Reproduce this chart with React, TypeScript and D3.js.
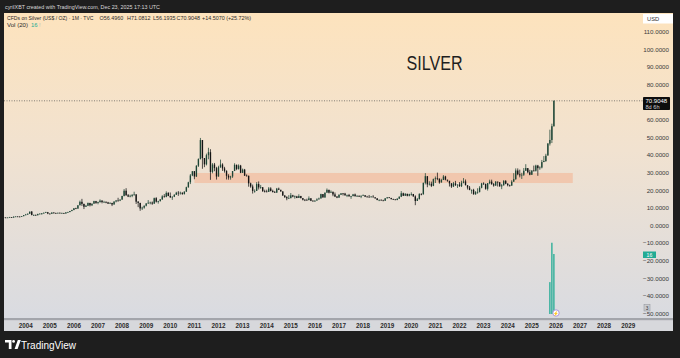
import React from "react";
import * as d3 from "d3";

const W = 680;
const H = 358;

const startYear = 2003; // first monthly candle: Jan 2003
const firstOpen = 4.8;

// monthly closes, Jan 2003 .. Dec 2025
const closes = [
  4.83, 4.58, 4.44, 4.59, 4.79, 4.55, 5.08, 5.17, 5.14, 5.02, 5.37, 5.96, // 2003
  6.28, 6.73, 7.94, 6.05, 6.06, 5.87, 6.59, 6.81, 6.95, 7.28, 7.6, 6.82, // 2004
  6.7, 7.41, 7.13, 7.0, 7.25, 7.03, 7.19, 6.85, 7.55, 7.7, 8.3, 8.83, // 2005
  9.87, 9.65, 11.56, 13.5, 12.35, 10.7, 11.28, 12.85, 11.55, 12.44, 13.9, 12.9, // 2006
  13.4, 14.2, 13.37, 13.45, 13.2, 12.45, 12.85, 12.0, 13.7, 14.25, 14.2, 14.76, // 2007
  16.85, 19.8, 17.25, 16.5, 16.9, 17.5, 17.7, 13.6, 12.9, 9.75, 10.2, 11.3, // 2008
  12.6, 13.0, 13.1, 12.5, 15.6, 13.6, 13.9, 14.9, 16.6, 16.35, 18.55, 16.85, // 2009
  16.1, 16.4, 17.5, 18.7, 18.4, 18.7, 18.0, 19.35, 21.8, 24.6, 28.5, 30.9, // 2010
  27.9, 34.0, 37.8, 48.6, 38.4, 34.8, 40.0, 41.7, 30.5, 34.7, 32.7, 27.9, // 2011
  33.2, 34.7, 32.5, 31.1, 28.3, 27.35, 27.9, 31.0, 34.5, 32.2, 34.1, 30.0, // 2012
  31.8, 28.4, 28.3, 24.0, 22.2, 19.7, 19.7, 23.6, 21.7, 21.8, 19.5, 19.4, // 2013
  19.15, 21.1, 19.7, 19.0, 18.7, 21.0, 20.4, 19.4, 17.05, 16.2, 15.5, 15.6, // 2014
  17.2, 16.5, 16.6, 15.7, 16.8, 15.6, 14.7, 14.6, 14.5, 15.5, 14.1, 13.8, // 2015
  14.1, 14.9, 15.4, 17.9, 16.0, 18.7, 20.3, 18.7, 19.2, 17.7, 16.5, 15.9, // 2016
  17.5, 18.3, 18.2, 17.2, 17.4, 16.6, 16.8, 17.7, 16.65, 16.7, 16.45, 16.9, // 2017
  17.3, 16.45, 16.35, 16.3, 16.45, 16.1, 15.5, 14.55, 14.65, 14.3, 14.15, 15.5, // 2018
  16.05, 15.65, 15.1, 14.95, 14.55, 15.3, 16.4, 18.35, 16.95, 18.1, 16.95, 17.85, // 2019
  17.95, 16.6, 14.0, 15.0, 17.9, 17.75, 24.3, 28.1, 23.4, 23.8, 22.6, 26.4, // 2020
  26.9, 26.7, 24.5, 25.9, 27.9, 26.1, 25.5, 24.0, 22.2, 24.0, 23.1, 23.3, // 2021
  22.4, 24.3, 25.1, 23.0, 21.6, 20.3, 20.3, 17.8, 19.0, 19.15, 21.5, 23.95, // 2022
  23.6, 20.9, 24.1, 25.0, 23.55, 22.75, 24.95, 24.7, 22.3, 22.9, 25.3, 23.8, // 2023
  22.95, 22.7, 24.95, 26.4, 31.3, 29.15, 28.55, 28.9, 31.15, 32.7, 30.3, 28.9, // 2024
  31.3, 31.15, 34.1, 32.65, 33.0, 36.1, 36.7, 39.7, 46.6, 48.65, 56.496, 70.9048, // 2025
];

const highs = [
  4.98, 4.8, 4.7, 4.67, 4.95, 4.88, 5.2, 5.28, 5.33, 5.2, 5.42, 5.99,
  6.64, 6.89, 7.94, 8.29, 6.3, 6.3, 6.77, 6.92, 7.15, 7.48, 7.85, 7.75,
  6.93, 7.55, 7.58, 7.36, 7.41, 7.48, 7.35, 7.2, 7.55, 7.86, 8.3, 9.0,
  9.87, 10.15, 11.56, 14.2, 15.2, 12.4, 11.75, 13.1, 12.95, 12.6, 14.1, 14.05,
  13.6, 14.9, 14.4, 14.05, 13.8, 13.5, 13.3, 12.95, 13.75, 14.55, 15.8, 14.95,
  16.9, 20.75, 21.25, 17.95, 17.55, 17.8, 19.25, 17.9, 13.9, 12.9, 10.75, 11.4,
  12.7, 14.5, 13.6, 13.7, 15.9, 16.15, 14.1, 15.1, 17.25, 17.9, 19.45, 19.0,
  18.8, 16.6, 17.8, 19.2, 19.6, 19.3, 18.85, 19.35, 22.1, 24.9, 29.3, 30.9,
  31.0, 34.3, 38.2, 49.8, 48.6, 38.3, 40.9, 44.2, 43.4, 35.5, 35.6, 33.4,
  34.0, 37.5, 35.4, 33.4, 31.4, 29.2, 28.3, 31.0, 35.4, 34.7, 34.8, 34.5,
  32.4, 32.2, 29.1, 28.4, 24.4, 23.3, 20.6, 24.7, 25.1, 23.1, 21.9, 20.4,
  20.4, 21.9, 21.8, 20.4, 19.7, 21.4, 21.6, 20.1, 19.5, 17.4, 16.7, 17.3,
  18.5, 17.5, 17.1, 16.9, 17.8, 16.9, 15.7, 15.0, 15.3, 16.6, 15.6, 14.5,
  14.5, 15.5, 15.9, 18.1, 17.9, 18.8, 21.1, 20.4, 20.0, 19.3, 18.8, 16.8,
  17.8, 18.5, 18.5, 18.6, 17.6, 18.0, 16.9, 18.0, 18.2, 17.4, 17.3, 17.2,
  17.7, 17.1, 16.9, 17.4, 16.8, 17.3, 16.1, 15.5, 14.8, 14.9, 14.7, 15.6,
  16.2, 16.2, 15.8, 15.3, 14.9, 15.5, 16.6, 19.6, 18.7, 18.4, 18.0, 18.1,
  18.9, 18.0, 17.2, 15.7, 18.4, 18.4, 24.4, 29.8, 28.0, 25.2, 25.0, 26.7,
  27.9, 30.1, 26.7, 26.6, 28.7, 28.3, 26.0, 24.6, 24.1, 24.8, 25.4, 23.4,
  24.7, 25.5, 27.0, 26.2, 22.5, 22.5, 20.5, 20.9, 19.6, 21.2, 22.4, 24.3,
  24.6, 23.9, 24.2, 26.1, 26.1, 24.2, 25.3, 25.0, 24.2, 23.7, 25.9, 25.9,
  24.1, 23.3, 25.8, 29.8, 32.5, 32.5, 31.8, 30.0, 32.7, 34.9, 32.4, 31.7,
  31.4, 34.1, 34.6, 34.5, 33.7, 37.3, 39.5, 40.8, 46.9, 54.5, 57.9, 71.0812,
];

const lows = [
  4.66, 4.55, 4.37, 4.39, 4.55, 4.48, 4.52, 4.92, 4.97, 4.78, 4.98, 5.32,
  5.89, 6.1, 6.69, 5.82, 5.5, 5.73, 5.85, 6.35, 6.2, 6.81, 7.2, 6.5,
  6.39, 6.64, 6.86, 6.87, 6.92, 7.03, 6.86, 6.68, 6.85, 7.34, 7.6, 8.15,
  8.77, 9.35, 9.6, 11.5, 11.2, 9.4, 10.6, 11.1, 10.9, 11.1, 12.45, 12.35,
  12.1, 13.0, 12.65, 13.1, 12.7, 12.35, 12.4, 11.1, 11.9, 13.2, 13.7, 13.9,
  14.7, 16.6, 16.95, 16.2, 16.05, 16.15, 17.05, 12.3, 10.5, 8.4, 8.85, 9.6,
  10.9, 12.3, 12.1, 11.8, 12.35, 13.1, 12.5, 13.7, 14.6, 15.9, 16.1, 16.7,
  15.7, 14.6, 16.2, 17.5, 16.9, 17.6, 17.5, 17.6, 19.1, 21.5, 23.6, 28.1,
  26.35, 27.6, 33.3, 37.6, 32.3, 33.2, 34.2, 37.7, 26.0, 29.7, 30.9, 26.15,
  27.8, 32.8, 31.1, 30.1, 26.2, 26.1, 26.1, 27.1, 31.0, 31.5, 31.8, 29.8,
  29.9, 28.2, 28.0, 22.1, 21.5, 18.2, 18.7, 19.7, 20.5, 20.9, 19.25, 18.8,
  18.9, 19.2, 19.4, 18.9, 18.7, 18.7, 20.2, 19.3, 17.0, 15.7, 14.4, 15.3,
  15.5, 16.1, 15.3, 15.6, 15.8, 15.5, 14.3, 13.9, 14.3, 14.4, 13.9, 13.7,
  13.6, 14.6, 14.8, 15.4, 15.9, 15.8, 18.7, 18.3, 18.6, 16.7, 16.2, 15.6,
  15.8, 17.5, 17.1, 17.0, 16.2, 16.5, 15.2, 16.6, 16.6, 16.5, 16.3, 15.6,
  16.9, 16.2, 16.1, 16.0, 16.1, 16.0, 15.3, 14.4, 13.9, 14.2, 13.9, 14.0,
  15.4, 15.6, 14.8, 14.7, 14.3, 14.4, 15.1, 16.2, 16.8, 16.9, 16.6, 16.6,
  17.0, 16.4, 11.6, 14.2, 14.9, 17.2, 17.7, 23.4, 21.8, 22.8, 21.9, 22.4,
  24.2, 25.8, 23.8, 24.5, 25.9, 25.7, 24.9, 22.2, 21.4, 21.9, 22.5, 21.4,
  22.0, 21.9, 24.0, 22.8, 20.5, 20.1, 18.1, 17.6, 17.5, 18.1, 18.8, 21.2,
  23.1, 20.4, 19.9, 23.5, 23.2, 22.1, 22.6, 22.2, 22.1, 20.7, 22.7, 23.5,
  22.3, 22.1, 22.7, 24.9, 26.0, 28.6, 27.4, 26.5, 28.2, 31.1, 29.7, 28.6,
  28.8, 30.8, 30.7, 28.3, 31.7, 32.5, 36.1, 36.2, 40.1, 45.5, 46.9, 56.1935,
];

// volume (only the latest months carry volume)
const volumeMonths = [2025 + 9 / 12, 2025 + 10 / 12, 2025 + 11 / 12];
const volumes = [8.5, 19, 16];

const yearTicks = d3.range(2004, 2030);
// 70.0000 is hidden behind the last-price label in the reference
const priceTicks = [110, 100, 90, 80, 60, 50, 40, 30, 20, 10, 0, -10, -20, -30, -40, -50];

const zone = { from: 2011, to: 2026.7, low: 24.2, high: 29.9 };
const lastPrice = 70.9048;

const headerText = "CFDs on Silver (US$ / OZ) · 1M · TVC";
const ohlcLabels = ["O", "H", "L", "C"];
const ohlcValues = ["56.4960", "71.0812", "56.1935", "70.9048"];
const changeText = "+14.5070 (+25.72%)";

const FONT = "'Liberation Sans', Arial, sans-serif";

export default function App() {
  const panel = { x0: 4, x1: 673, y0: 13, y1: 331 };
  const plotRight = 643;
  const axisTop = 318;

  const x = d3.scaleLinear().domain([2004, 2029]).range([25.7, 628.2]);
  const y = d3.scaleLinear().domain([110, -50]).range([32, 313.6]);
  const yVol = d3.scaleLinear().domain([0, 16]).range([314, 254]);

  const candles = closes.map((c, i) => {
    const t = startYear + i / 12;
    const o = i === 0 ? firstOpen : closes[i - 1];
    return { t, o, h: highs[i], l: lows[i], c };
  });

  const upCol = "#1d4535";
  const downCol = "#141414";
  const bw = 1.35;

  const ohlcX = [99.5, 127, 153, 176.5];

  return (
    <svg
      width={W}
      height={H}
      style={{ position: "fixed", left: 0, top: 0, display: "block" }}
      fontFamily={FONT}
    >
      <defs>
        <linearGradient id="bg" x1="0" y1="0" x2="0" y2="1">
          <stop offset="0" stopColor="#fde3bd" />
          <stop offset="0.45" stopColor="#f1e2d0" />
          <stop offset="1" stopColor="#d9dbe1" />
        </linearGradient>
        <clipPath id="plotClip">
          <rect x={panel.x0} y={panel.y0} width={plotRight - panel.x0} height={axisTop - panel.y0} />
        </clipPath>
      </defs>

      <rect x={0} y={0} width={W} height={H} fill="#1e1e1e" />
      <rect x={panel.x0} y={panel.y0} width={panel.x1 - panel.x0} height={axisTop - panel.y0} fill="url(#bg)" />

      {/* top credits */}
      <text x={5} y={9} fontSize={6.2} fill="#d8d8d8" textLength={155} lengthAdjust="spacingAndGlyphs">
        cyrilXBT created with TradingView.com, Dec 23, 2025 17:13 UTC
      </text>

      <g clipPath="url(#plotClip)">
        {/* support/resistance zone */}
        <rect
          x={x(zone.from)}
          y={y(zone.high)}
          width={x(zone.to) - x(zone.from)}
          height={y(zone.low) - y(zone.high)}
          fill="#f4ab86"
          opacity={0.48}
        />

        {/* last price line */}
        <line
          x1={panel.x0}
          x2={plotRight}
          y1={y(lastPrice)}
          y2={y(lastPrice)}
          stroke="#555"
          strokeWidth={0.7}
          strokeDasharray="1,1.5"
        />

        {/* candles */}
        {candles.map((d, i) => {
          const cx = x(d.t);
          const up = d.c >= d.o;
          const col = up ? upCol : downCol;
          const top = y(Math.max(d.o, d.c));
          const bot = y(Math.min(d.o, d.c));
          return (
            <g key={i}>
              <line x1={cx} x2={cx} y1={y(d.h)} y2={y(d.l)} stroke={col} strokeWidth={0.75} />
              <rect x={cx - bw / 2} y={top} width={bw} height={Math.max(0.7, bot - top)} fill={col} />
            </g>
          );
        })}

        {/* volume */}
        {volumes.map((v, i) => (
          <rect
            key={i}
            x={x(volumeMonths[i]) - 0.65}
            y={yVol(v)}
            width={1.3}
            height={yVol(0) - yVol(v)}
            fill="#22ab94"
          />
        ))}

        {/* SILVER title */}
        <text x={434.5} y={70} fontSize={20} fill="#1e1e1e" textAnchor="middle" textLength={56} lengthAdjust="spacingAndGlyphs">
          SILVER
        </text>

        {/* event marker */}
        <circle cx={556} cy={313} r={3.2} fill="#ffffff" stroke="#9b7fd4" strokeWidth={0.8} />
        <text x={556} y={315} fontSize={4.5} textAnchor="middle" fill="#6b4fb0">
          ⚡
        </text>
      </g>

      {/* legend */}
      <g fill="#2a2a2a">
        <text x={7} y={20.2} fontSize={5.1}>
          {headerText}
        </text>
        {ohlcLabels.map((k, i) => (
          <text key={k} x={ohlcX[i]} y={20.2} fontSize={5.4}>
            {k + ohlcValues[i]}
          </text>
        ))}
        <text x={202} y={20.2} fontSize={5.4}>
          {changeText}
        </text>
        <text x={7} y={27.4} fontSize={5.9} textLength={21} lengthAdjust="spacingAndGlyphs">
          Vol (20)
        </text>
        <text x={31} y={27.4} fontSize={5.9} fill="#22ab94">
          16
        </text>
        <text x={39} y={27.4} fontSize={5.9} fill="#bbbbbb">
          !
        </text>
      </g>

      {/* right price axis */}
      {priceTicks.map((p) => (
        <text key={p} x={669} y={y(p) + 2.2} fontSize={6.2} fill="#3b3b3b" textAnchor="end">
          {(p < 0 ? "\u2212" : "") + Math.abs(p).toFixed(4)}
        </text>
      ))}

      {/* USD box */}
      <rect x={643} y={14} width={30} height={9.5} fill="#ffffff" />
      <text x={647} y={21} fontSize={5.8} fill="#333">
        USD
      </text>

      {/* last price label */}
      <rect x={643} y={97} width={27} height={13} fill="#0d0d0d" rx={0.8} />
      <text x={645.5} y={103} fontSize={6} fill="#ffffff">
        {lastPrice.toFixed(4)}
      </text>
      <text x={645.5} y={109} fontSize={5.6} fill="#cfcfcf">
        8d 6h
      </text>

      {/* volume label */}
      <rect x={643} y={251.5} width={13} height={6.5} fill="#22ab94" />
      <text x={649.5} y={256.8} fontSize={5.2} fill="#ffffff" textAnchor="middle">
        16
      </text>

      {/* small "3" badge */}
      <rect x={644} y={304.5} width={6} height={6.5} fill="#c9cbd0" stroke="#8d9096" strokeWidth={0.5} />
      <text x={647} y={309.6} fontSize={4.8} fill="#333" textAnchor="middle">
        3
      </text>

      {/* bottom time axis */}
      <rect x={panel.x0} y={axisTop} width={panel.x1 - panel.x0} height={panel.y1 - axisTop} fill="#d7d8dc" />
      <rect x={panel.x0} y={axisTop} width={panel.x1 - panel.x0} height={2.2} fill="#a3a5ab" />
      {yearTicks.map((yr) => (
        <text
          key={yr}
          x={x(yr)}
          y={327.8}
          fontSize={6.3}
          fontWeight="bold"
          fill="#2c2c2c"
          textAnchor="middle"
        >
          {yr}
        </text>
      ))}

      {/* TradingView logo */}
      <g transform="translate(5,340)">
        <path d="M0 0 H6.5 V9 H3.8 V2.6 H0 Z" fill="#ffffff" />
        <circle cx={8.6} cy={1.4} r={1.4} fill="#ffffff" />
        <path d="M9.6 9 L12.8 0 H15.8 L12.6 9 Z" fill="#ffffff" />
      </g>
      <text x={21} y={349} fontSize={10} fill="#ffffff" fontWeight="500">
        TradingView
      </text>
    </svg>
  );
}
